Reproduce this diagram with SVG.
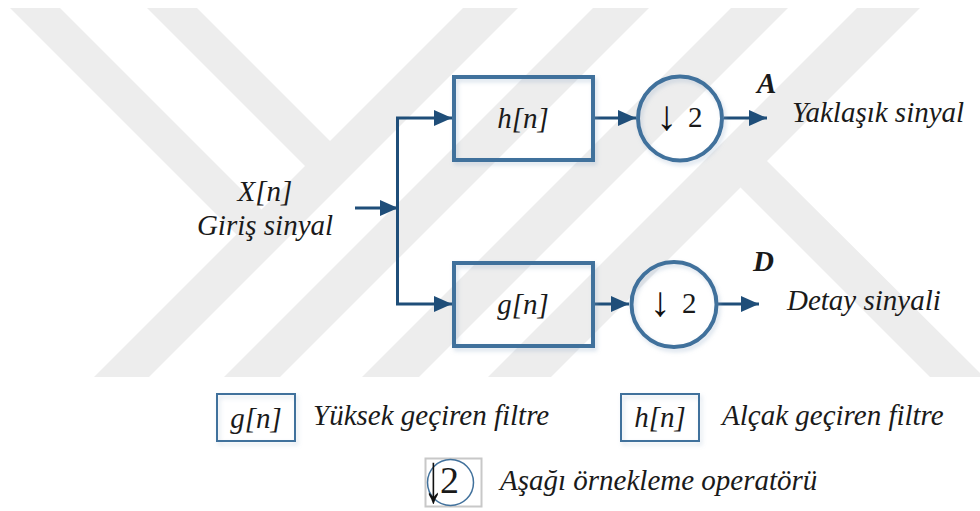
<svg xmlns="http://www.w3.org/2000/svg" width="980" height="511" viewBox="0 0 980 511">
  <defs>
    <style>
      .wm { fill: #ededed; }
      .box { fill: none; stroke: #41719C; stroke-width: 4; }
      .lbox { fill: none; stroke: #41719C; stroke-width: 2; }
      .conn { fill: none; stroke: #1F4E79; stroke-width: 3; }
      .t { font-style: italic; font-size: 29px; fill: #1a1a1a; }
      .b { font-weight: bold; }
      .r { font-size: 29px; fill: #1a1a1a; }
      .ar { font-size: 42px; fill: #111111; }
    </style>
    <marker id="ah" markerUnits="userSpaceOnUse" markerWidth="18" markerHeight="16" refX="18" refY="8" orient="auto" viewBox="0 0 18 16">
      <path d="M0,0 L18,8 L0,16 z" fill="#1F4E79"/>
    </marker>
    <filter id="sh" x="-10%" y="-10%" width="130%" height="130%">
      <feDropShadow dx="2" dy="3" stdDeviation="2" flood-color="#8fa7c6" flood-opacity="0.35"/>
    </filter>
  </defs>
  <rect width="980" height="511" fill="#ffffff"/>

  <g id="watermark">
    <polygon class="wm" points="463,8 518,8 149,377 94,377"/>
    <polygon class="wm" points="593,8 649,8 280,377 224,377"/>
    <polygon class="wm" points="731,8 788,8 419,377 362,377"/>
    <polygon class="wm" points="857,8 920,8 551,377 488,377"/>
    <polygon class="wm" points="147,8 197,8 344,155 319,180"/>
    <polygon class="wm" points="10,8 60,8 275,223 250,248"/>
    <polygon class="wm" points="753,147 984,377 930,377 727,174"/>
  </g>

  <g id="connectors">
    <path class="conn" d="M355,208 H398" marker-end="url(#ah)"/>
    <path class="conn" d="M397.5,208 V118 H452" marker-end="url(#ah)"/>
    <path class="conn" d="M397.5,208 V304 H452" marker-end="url(#ah)"/>
    <path class="conn" d="M593,118 H636" marker-end="url(#ah)"/>
    <path class="conn" d="M724,118 H767" marker-end="url(#ah)"/>
    <path class="conn" d="M593,304 H629" marker-end="url(#ah)"/>
    <path class="conn" d="M718,304 H759" marker-end="url(#ah)"/>
  </g>

  <g id="input" font-family="Liberation Serif, DejaVu Serif, serif">
    <text class="t" x="265" y="201" text-anchor="middle">X[n]</text>
    <text class="t" x="265" y="235" text-anchor="middle">Giriş sinyal</text>
  </g>

  <g id="h-filter" font-family="Liberation Serif, DejaVu Serif, serif">
    <rect class="box" x="454" y="77" width="139" height="83" filter="url(#sh)"/>
    <text class="t" x="523" y="128" text-anchor="middle">h[n]</text>
  </g>

  <g id="g-filter" font-family="Liberation Serif, DejaVu Serif, serif">
    <rect class="box" x="454" y="263" width="139" height="83" filter="url(#sh)"/>
    <text class="t" x="523" y="314" text-anchor="middle">g[n]</text>
  </g>

  <g id="down-a" font-family="Liberation Serif, DejaVu Serif, serif">
    <circle class="box" cx="680" cy="118.5" r="42" stroke-width="3.5" filter="url(#sh)"/>
    <text class="ar" x="666.5" y="130" text-anchor="middle">↓</text>
    <text class="r" x="688" y="127">2</text>
  </g>

  <g id="down-d" font-family="Liberation Serif, DejaVu Serif, serif">
    <circle class="box" cx="674" cy="304.5" r="42.5" stroke-width="3.5" filter="url(#sh)"/>
    <text class="ar" x="660" y="316" text-anchor="middle">↓</text>
    <text class="r" x="682" y="313">2</text>
  </g>

  <g id="out-a" font-family="Liberation Serif, DejaVu Serif, serif">
    <text class="t b" x="757" y="93">A</text>
    <text class="t" x="792" y="122">Yaklaşık sinyal</text>
  </g>

  <g id="out-d" font-family="Liberation Serif, DejaVu Serif, serif">
    <text class="t b" x="753" y="271">D</text>
    <text class="t" x="787" y="310">Detay sinyali</text>
  </g>

  <g id="legend-g" font-family="Liberation Serif, DejaVu Serif, serif">
    <rect class="lbox" x="217" y="394" width="78" height="47" filter="url(#sh)"/>
    <text class="t" x="256" y="428" text-anchor="middle">g[n]</text>
    <text class="t" x="313" y="425">Yüksek geçiren filtre</text>
  </g>

  <g id="legend-h" font-family="Liberation Serif, DejaVu Serif, serif">
    <rect class="lbox" x="621" y="394" width="78" height="47" filter="url(#sh)"/>
    <text class="t" x="660" y="427" text-anchor="middle">h[n]</text>
    <text class="t" x="722" y="425">Alçak geçiren filtre</text>
  </g>

  <g id="legend-down" font-family="Liberation Serif, DejaVu Serif, serif">
    <rect x="425.5" y="458.5" width="56" height="48" fill="none" stroke="#c8c8c8" stroke-width="2"/>
    <circle cx="450.5" cy="482.5" r="23" fill="none" stroke="#41719C" stroke-width="1.5"/>
    <text class="ar" transform="translate(433.5,502) scale(0.55,1)" x="0" y="0" text-anchor="middle" style="font-size:70px">↓</text>
    <text class="r" x="440" y="493" style="font-size:38px">2</text>
    <text class="t" x="500" y="490">Aşağı örnekleme operatörü</text>
  </g>
</svg>
